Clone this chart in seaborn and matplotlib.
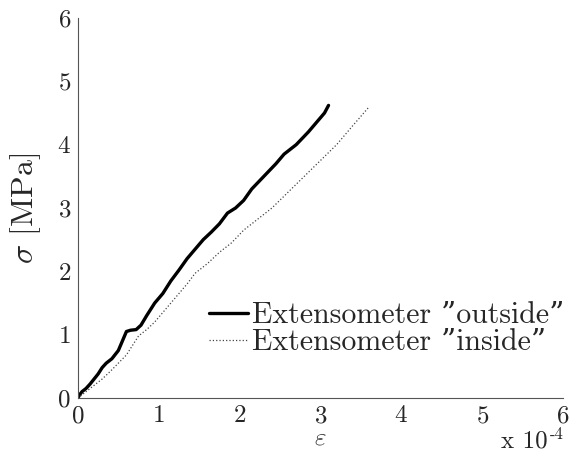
import matplotlib
matplotlib.use("Agg")
import matplotlib.pyplot as plt
import seaborn as sns
import pandas as pd

# strain in units of 1e-4, stress in MPa
out_strain = [0.0, 0.02, 0.05, 0.1, 0.15, 0.2, 0.25, 0.3, 0.35, 0.42, 0.5, 0.55, 0.6, 0.65,
              0.72, 0.78, 0.85, 0.95, 1.05, 1.15, 1.25, 1.35, 1.45, 1.55, 1.65, 1.75, 1.85,
              1.95, 2.05, 2.15, 2.3, 2.45, 2.55, 2.7, 2.85, 2.95, 3.05, 3.1]
out_stress = [0.0, 0.05, 0.1, 0.15, 0.22, 0.3, 0.38, 0.48, 0.55, 0.62, 0.75, 0.9, 1.05, 1.07,
              1.08, 1.15, 1.3, 1.5, 1.65, 1.85, 2.02, 2.2, 2.35, 2.5, 2.62, 2.75, 2.92,
              3.0, 3.12, 3.3, 3.5, 3.7, 3.85, 4.0, 4.2, 4.35, 4.5, 4.62]
in_strain = [0.0, 0.05, 0.1, 0.2, 0.3, 0.4, 0.5, 0.6, 0.75, 0.85, 0.95, 1.05, 1.15, 1.25,
             1.35, 1.45, 1.6, 1.75, 1.9, 2.05, 2.2, 2.4, 2.6, 2.8, 3.0, 3.2, 3.4, 3.59]
in_stress = [0.0, 0.05, 0.1, 0.2, 0.3, 0.42, 0.55, 0.68, 0.98, 1.08, 1.2, 1.35, 1.5, 1.65,
             1.8, 1.97, 2.12, 2.3, 2.45, 2.65, 2.8, 3.0, 3.25, 3.5, 3.75, 4.0, 4.3, 4.58]
labels = ['Extensometer \u201doutside\u201d', 'Extensometer \u201dinside\u201d']

sns.set_style("white")
plt.rcParams['font.family'] = ['cmr10', 'DejaVu Serif']
plt.rcParams['mathtext.fontset'] = 'cm'
plt.rcParams['axes.formatter.use_mathtext'] = True

df_out = pd.DataFrame({'strain': out_strain, 'stress': out_stress})
df_in = pd.DataFrame({'strain': in_strain, 'stress': in_stress})

fig = plt.figure(figsize=(5.73, 4.58), dpi=100)
ax = fig.add_axes([0.136, 0.131, 0.8465, 0.8297])
sns.lineplot(data=df_out, x='strain', y='stress', sort=False, ax=ax, color='black',
             lw=2.4, label=labels[0])
sns.lineplot(data=df_in, x='strain', y='stress', sort=False, ax=ax, color='#444444',
             lw=0.9, ls=':', label=labels[1])

ax.set_xlim(0, 6)
ax.set_ylim(0, 6)
ax.set_xticks(range(0, 7))
ax.set_yticks(range(0, 7))
sns.despine(ax=ax)
for s in ['left', 'bottom']:
    ax.spines[s].set_color('#555555')
    ax.spines[s].set_linewidth(0.8)
ax.tick_params(direction='in', length=5, width=0.8, color='#555555', labelsize=18,
               pad=5)
ax.set_xlabel(r'$\varepsilon$', fontsize=18, labelpad=0)
ax.set_ylabel(r'$\sigma$ [MPa]', fontsize=23, labelpad=10)
fig.text(548 / 573, 11 / 458, 'x 10', ha='right', va='baseline', fontsize=18)
fig.text(550 / 573, 19 / 458, '-4', ha='left', va='baseline', fontsize=12)
leg = ax.legend(loc='upper left', bbox_to_anchor=(0.245, 0.285), frameon=False,
                fontsize=21.5, handlelength=1.3, handletextpad=0.15, borderaxespad=0,
                labelspacing=0.0)
fig.savefig('out.png', dpi=100)
